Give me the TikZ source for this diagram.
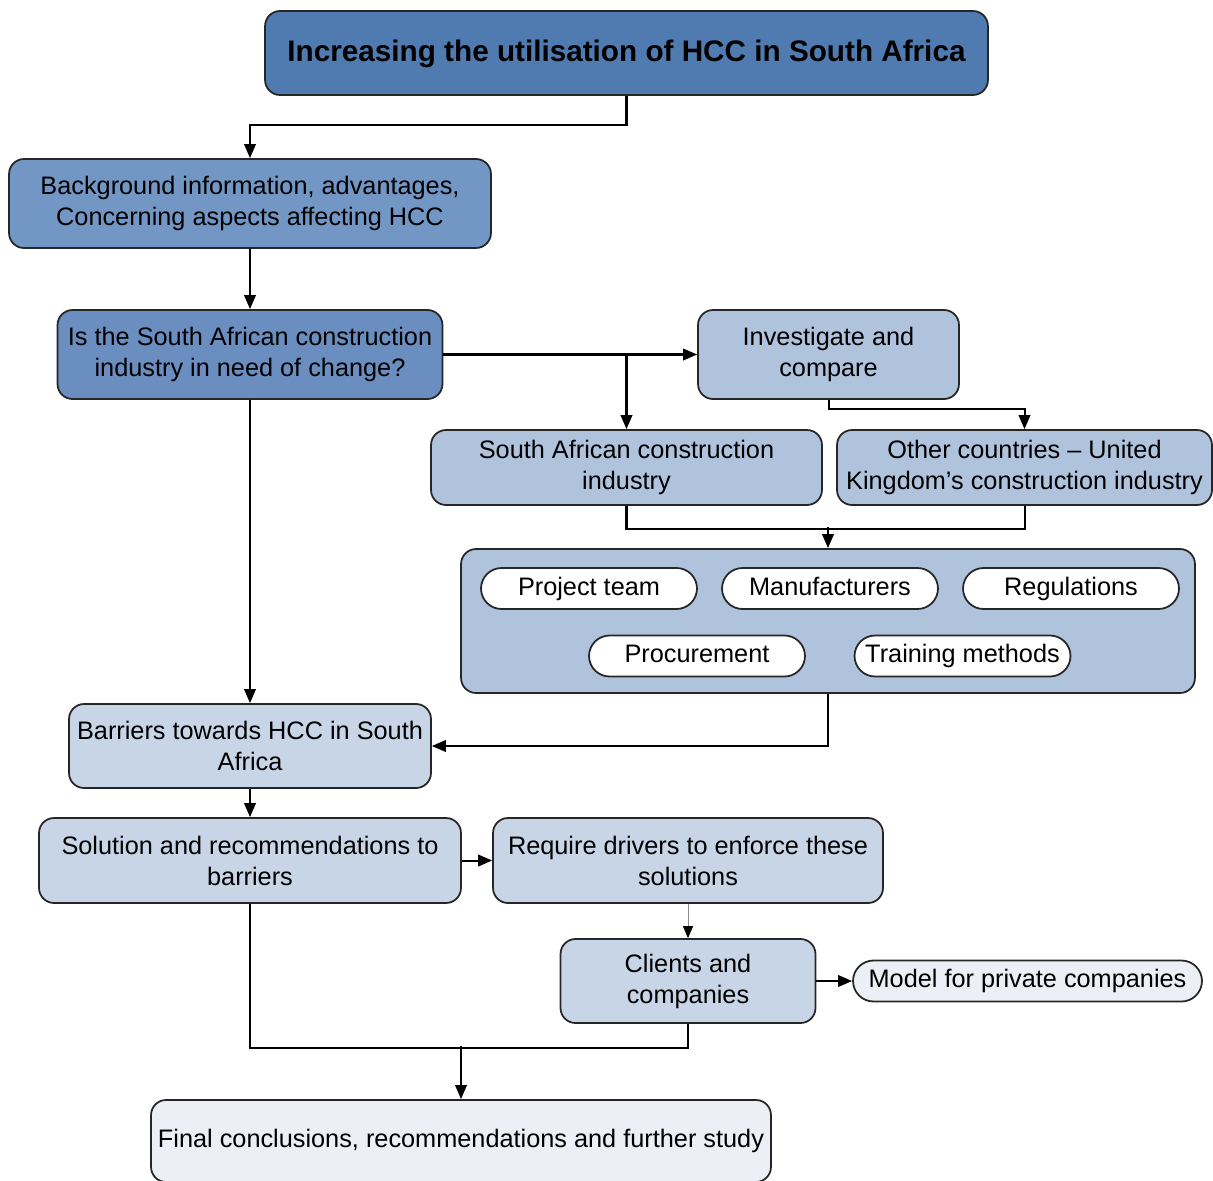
\documentclass[tikz,border=0pt]{standalone}
\usepackage{fontspec}
\setmainfont{Liberation Sans}
\usetikzlibrary{arrows.meta}
\definecolor{topblue}{HTML}{4F7BB0}
\definecolor{midblue}{HTML}{7397C4}
\definecolor{qblue}{HTML}{6A8EC0}
\definecolor{lightblue}{HTML}{B0C3DD}
\definecolor{paleblue}{HTML}{C8D5E6}
\definecolor{mistblue}{HTML}{ECF0F6}
\begin{document}
\begin{tikzpicture}[x=0.02cm,y=-0.02cm,
  box/.style={draw=black!85,line width=1pt,rounded corners=0.3cm,align=center,
    inner sep=0pt,font=\fontsize{14.4pt}{17.6pt}\selectfont},
  pill/.style={draw=black!85,line width=1pt,rounded corners=0.41cm,align=center,
    inner sep=0pt,minimum width=4.32cm,minimum height=0.82cm,fill=white,
    text height=10.6pt,text depth=3.2pt,
    font=\fontsize{14.4pt}{17.6pt}\selectfont},
  line/.style={draw=black,line width=1.15pt},
  conn/.style={line,-{Triangle[length=0.28cm,width=0.23cm]}}]
\clip (0,0) rectangle (1213,1180);
\fill[white] (0,0) rectangle (1213,1180);

% main chain
\node[box,fill=topblue,minimum width=14.46cm,minimum height=1.68cm,
  text height=12.5pt,text depth=2.5pt,
  font=\fontsize{16.9pt}{20pt}\selectfont\bfseries] (top) at (626.5,53)
  {Increasing the utilisation of HCC in South Africa};
\node[box,fill=midblue,minimum width=9.64cm,minimum height=1.78cm] (bg) at (250,203.5)
  {Background information, advantages,\\Concerning aspects affecting HCC};
\node[box,fill=qblue,minimum width=7.70cm,minimum height=1.78cm] (need) at (250,354.5)
  {Is the South African construction\\industry in need of change?};
\node[box,fill=lightblue,minimum width=5.22cm,minimum height=1.78cm] (inv) at (828.5,354.5)
  {Investigate and\\compare};
\node[box,fill=lightblue,minimum width=7.82cm,minimum height=1.50cm] (sa) at (626.5,467.5)
  {South African construction\\industry};
\node[box,fill=lightblue,minimum width=7.50cm,minimum height=1.50cm] (uk) at (1024.5,467.5)
  {Other countries -- United\\Kingdom’s construction industry};

% group of aspects
\node[box,fill=lightblue,minimum width=14.68cm,minimum height=2.88cm] (grp) at (828,621) {};
\node[pill] (team) at (589,588.5) {Project team};
\node[pill] (manu) at (830,588.5) {Manufacturers};
\node[pill] (regs) at (1071,588.5) {Regulations};
\node[pill] (proc) at (697,656) {Procurement};
\node[pill] (train) at (962.5,656) {Training methods};

\node[box,fill=paleblue,minimum width=7.24cm,minimum height=1.68cm] (bar) at (250,746)
  {Barriers towards HCC in South\\Africa};
\node[box,fill=paleblue,minimum width=8.44cm,minimum height=1.70cm] (sol) at (250,860.5)
  {Solution and recommendations to\\barriers};
\node[box,fill=paleblue,minimum width=7.80cm,minimum height=1.70cm] (req) at (688,860.5)
  {Require drivers to enforce these\\solutions};
\node[box,fill=paleblue,minimum width=5.10cm,minimum height=1.68cm] (cli) at (688,981)
  {Clients and\\companies};
\node[pill,fill=mistblue,minimum width=6.98cm] (model) at (1027.5,981)
  {Model for private companies};
\node[box,fill=mistblue,minimum width=12.40cm,minimum height=1.64cm,
  text height=10.6pt,text depth=3.2pt] (fin) at (461,1141)
  {Final conclusions, recommendations and further study};

% connectors
\draw[conn] (top.south) -- ++(0,29) -| (bg.north);
\draw[conn] (bg.south) -- (need.north);
\draw[conn] (need.east) -- (inv.west);
\draw[conn] (need.east -| sa.north) -- (sa.north);
\draw[conn] (inv.south) -- ++(0,9) -| (uk.north);
\draw[line] (sa.south) -- ++(0,23) -| (uk.south);
\draw[conn] (grp.north) ++(0,-21) -- (grp.north);
\draw[conn] (need.south) -- (bar.north);
\draw[conn] (grp.south) |- (bar.east);
\draw[conn] (bar.south) -- (sol.north);
\draw[conn] (sol.east) -- (req.west);
\draw[draw=black!45,line width=0.5pt,-{Triangle[length=0.24cm,width=0.2cm,color=black]}] (req.south) -- (cli.north);
\draw[conn] (cli.east) -- (model.west);
\draw[line] (sol.south) -- ++(0,144) -| (cli.south);
\draw[conn] (fin.north) ++(0,-53) -- (fin.north);
\end{tikzpicture}
\end{document}
